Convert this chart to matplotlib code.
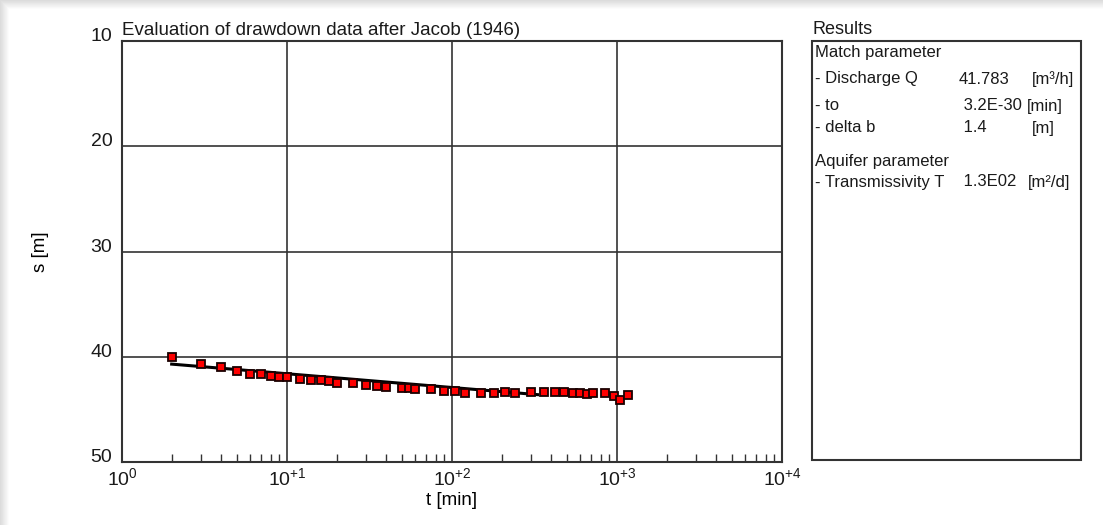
import numpy as np
import matplotlib
matplotlib.use("Agg")
import matplotlib.pyplot as plt
from matplotlib.patches import Rectangle

plt.rcParams['font.family'] = ['Liberation Sans', 'DejaVu Sans']
plt.rcParams['mathtext.fontset'] = 'custom'
plt.rcParams['mathtext.rm'] = 'Liberation Sans'
plt.rcParams['text.color'] = '#1a1a1a'
plt.rcParams['xtick.labelcolor'] = '#1a1a1a'
plt.rcParams['ytick.labelcolor'] = '#1a1a1a'

# measured drawdown
t_min = [2, 3, 4, 5, 6, 7, 8, 9, 10, 12, 14, 16, 18, 20, 25, 30, 35, 40, 50, 55,
         60, 75, 90, 105, 120, 150, 180, 210, 240, 300, 360, 420, 480, 540, 600,
         660, 720, 840, 960, 1050, 1160]
s_m = [40.0, 40.7, 40.95, 41.4, 41.6, 41.65, 41.8, 41.93, 41.97, 42.12, 42.22,
       42.22, 42.35, 42.45, 42.54, 42.67, 42.76, 42.83, 42.98, 42.98, 43.11,
       43.11, 43.24, 43.3, 43.46, 43.4, 43.46, 43.33, 43.46, 43.33, 43.33,
       43.33, 43.33, 43.46, 43.46, 43.52, 43.46, 43.46, 43.71, 44.1, 43.62]

# Jacob straight line
fit_t = [2, 330]
fit_s = [40.7, 43.6]

x_ticks = [1, 10, 100, 1000, 10000]
x_labels = [r'$\mathregular{10^{0}}$', r'$\mathregular{10^{+1}}$', r'$\mathregular{10^{+2}}$',
            r'$\mathregular{10^{+3}}$', r'$\mathregular{10^{+4}}$']
y_ticks = [10, 20, 30, 40, 50]

results = [
    ("Match parameter", "", ""),
    ("- Discharge Q", "41.783", "[m³/h]"),
    ("- to", " 3.2E-30", "[min]"),
    ("- delta b", " 1.4", "[m]"),
    ("Aquifer parameter", "", ""),
    ("- Transmissivity T", " 1.3E02", "[m²/d]"),
]
row_y = [53, 79, 106, 128, 162, 182]
unit_x = [0, 1032, 1027, 1032, 0, 1028]

W, H = 1103, 525
fig = plt.figure(figsize=(W / 100, H / 100), dpi=100)

# window shadow along top and left edge
bg = fig.add_axes([0, 0, 1, 1], zorder=-10)
img = np.ones((H, W))
ramp = np.clip(np.arange(10) / 9.0, 0, 1)
shade = 0.86 + 0.14 * ramp
img[:10, :] = np.minimum(img[:10, :], shade[:, None])
img[:, :10] = np.minimum(img[:, :10], shade[None, :])
bg.imshow(img, cmap='gray', vmin=0, vmax=1, aspect='auto', interpolation='bilinear')
bg.axis('off')

ax = fig.add_axes([122 / W, 1 - 462 / H, 660 / W, 421 / H])
ax.set_xscale('log')
ax.set_xlim(1, 10000)
ax.set_ylim(50, 10)

ax.plot(fit_t, fit_s, color='black', lw=2.2, zorder=3)
ax.plot(t_min, s_m, ls='none', marker='s', ms=6.0, mfc='#ff0000', mec='#1a0000',
        mew=1.3, zorder=4)

ax.set_xticks(x_ticks)
ax.set_xticklabels(x_labels)
ax.set_yticks(y_ticks)
ax.set_yticklabels([str(v) for v in y_ticks])
for lab in ax.get_yticklabels():
    lab.set_va('baseline')
ax.tick_params(axis='y', length=0, pad=7, labelsize=14)
ax.tick_params(axis='x', which='major', length=0, pad=4, labelsize=14)
ax.tick_params(axis='x', which='minor', direction='in', length=6, width=1, color='#333333')
ax.set_xticks([m * d for d in (1, 10, 100, 1000) for m in range(2, 10)], minor=True)
ax.xaxis.set_minor_formatter(plt.NullFormatter())
ax.grid(True, which='major', color='#333333', lw=1.2)
for sp in ax.spines.values():
    sp.set_color('#333333')
    sp.set_linewidth(1.5)

ax.set_xlabel('t [min]', fontsize=13.5, labelpad=2)
ax.set_ylabel('s [m]', fontsize=13.5, labelpad=30)
ax.set_title('Evaluation of drawdown data after Jacob (1946)', loc='left',
             fontsize=13.5, pad=4)

# results panel
fig.add_artist(Rectangle((812 / W, 1 - 460 / H), 269 / W, 419 / H,
                         transform=fig.transFigure, fill=False,
                         edgecolor='#333333', lw=1.5))
fig.text(812 / W, 1 - 29 / H, 'Results', fontsize=13, va='center', ha='left')
for (name, val, unit), y, ux in zip(results, row_y, unit_x):
    fig.text(815 / W, 1 - y / H, name, fontsize=12, va='center', ha='left')
    if val:
        fig.text(959 / W, 1 - y / H, val, fontsize=12, va='center', ha='left')
        fig.text(ux / W, 1 - y / H, unit, fontsize=12, va='center', ha='left')

fig.savefig('out.png', dpi=100)
